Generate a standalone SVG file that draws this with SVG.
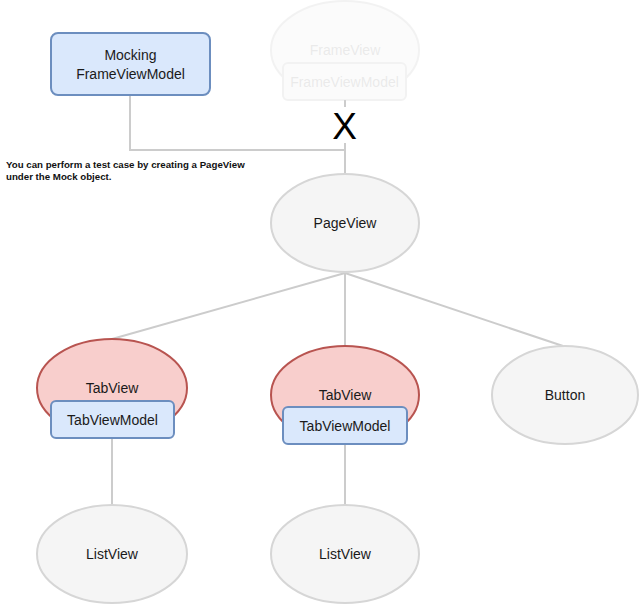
<svg xmlns="http://www.w3.org/2000/svg" width="640" height="605" viewBox="0 0 640 605">
<style>
.bg{fill:#ffffff}
.edge{stroke:#cccccc;stroke-width:2;fill:none}
.gray{fill:#f5f5f5;stroke:#d6d6d6;stroke-width:2}
.red{fill:#f8cecc;stroke:#b85450;stroke-width:2}
.blue{fill:#dae8fc;stroke:#6c8ebf;stroke-width:2}
.lbl{font-family:"Liberation Sans",Arial,sans-serif;font-size:14px;fill:#1a1a1a;text-anchor:middle;dominant-baseline:central}
.note{font-family:"Liberation Sans",Arial,sans-serif;font-size:9.7px;font-weight:bold;fill:#111111}
</style>
<rect class="bg" x="0" y="0" width="640" height="605"/>
<g id="connectors">
  <polyline class="edge" points="130,96 130,150 345,150"/>
  <line class="edge" x1="345" y1="100" x2="345" y2="107"/>
  <line class="edge" x1="345" y1="143" x2="345" y2="174"/>
  <line class="edge" x1="345" y1="273" x2="112" y2="339"/>
  <line class="edge" x1="345" y1="273" x2="345" y2="346"/>
  <line class="edge" x1="345" y1="273" x2="563" y2="346"/>
  <line class="edge" x1="112" y1="438" x2="112" y2="506"/>
  <line class="edge" x1="345" y1="444" x2="345" y2="506"/>
</g>
<g id="mocking">
  <rect class="blue" x="51" y="33" width="159" height="62" rx="7"/>
  <text class="lbl" x="130.5" y="55">Mocking</text>
  <text class="lbl" x="130.5" y="74">FrameViewModel</text>
</g>
<g id="frameview" opacity="0.3">
  <ellipse class="gray" cx="345" cy="50" rx="74" ry="49"/>
  <text class="lbl" x="345" y="50" fill="#bbbbbb" style="fill:#bbbbbb">FrameView</text>
  <rect class="gray" x="283" y="63" width="123" height="37" rx="5"/>
  <text class="lbl" x="344.5" y="82" style="fill:#bbbbbb">FrameViewModel</text>
</g>
<g id="cut">
  <text x="344.5" y="139" font-family="'Liberation Sans',Arial,sans-serif" font-size="37" text-anchor="middle" fill="#000000">X</text>
</g>
<g id="note">
  <text class="note" x="6" y="168">You can perform a test case by creating a PageView</text>
  <text class="note" x="6" y="180">under the Mock object.</text>
</g>
<g id="pageview">
  <ellipse class="gray" cx="345" cy="223" rx="74" ry="49"/>
  <text class="lbl" x="345" y="223">PageView</text>
</g>
<g id="tabview1">
  <ellipse class="red" cx="112" cy="388" rx="75" ry="49"/>
  <text class="lbl" x="112" y="388">TabView</text>
  <rect class="blue" x="51" y="401" width="123" height="37" rx="5"/>
  <text class="lbl" x="112.5" y="419.5">TabViewModel</text>
</g>
<g id="tabview2">
  <ellipse class="red" cx="345" cy="395" rx="74" ry="49"/>
  <text class="lbl" x="345" y="395">TabView</text>
  <rect class="blue" x="283" y="407" width="124" height="37" rx="5"/>
  <text class="lbl" x="345" y="425.5">TabViewModel</text>
</g>
<g id="button">
  <ellipse class="gray" cx="565" cy="395" rx="73" ry="49"/>
  <text class="lbl" x="565" y="395">Button</text>
</g>
<g id="listview1">
  <ellipse class="gray" cx="112" cy="554" rx="75" ry="49"/>
  <text class="lbl" x="112" y="554">ListView</text>
</g>
<g id="listview2">
  <ellipse class="gray" cx="345" cy="554" rx="74" ry="49"/>
  <text class="lbl" x="345" y="554">ListView</text>
</g>
</svg>
